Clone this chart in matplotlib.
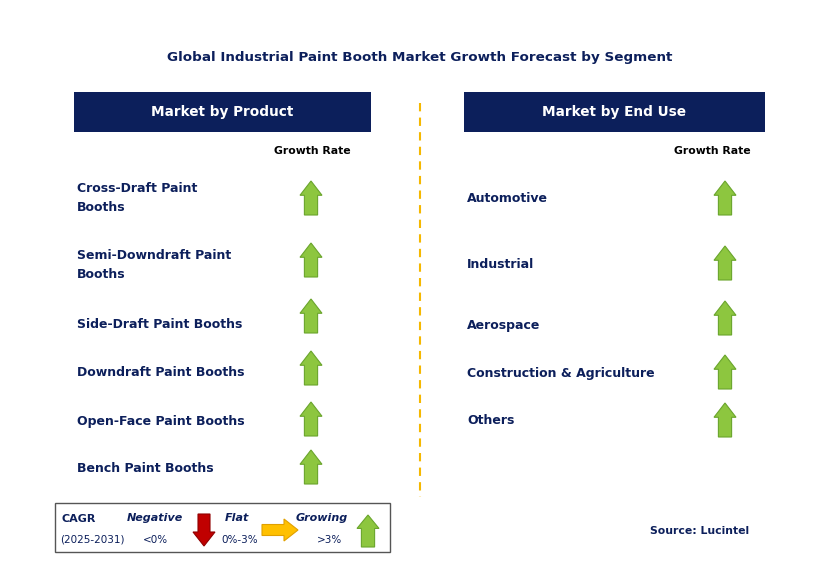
import matplotlib.pyplot as plt
from matplotlib.patches import Rectangle, FancyArrow

# DATA
title = 'Global Industrial Paint Booth Market Growth Forecast by Segment'
product_labels = ['Cross-Draft Paint\nBooths', 'Semi-Downdraft Paint\nBooths', 'Side-Draft Paint Booths',
                  'Downdraft Paint Booths', 'Open-Face Paint Booths', 'Bench Paint Booths']
product_growth = ['growing'] * 6
enduse_labels = ['Automotive', 'Industrial', 'Aerospace', 'Construction & Agriculture', 'Others']
enduse_growth = ['growing'] * 5

NAVY = '#0c1f5b'
GREEN = '#8dc63f'
GREEN_EDGE = '#6aa52c'

fig = plt.figure(figsize=(8.19, 5.8), dpi=100)
ax = fig.add_axes([0, 0, 1, 1])
ax.set_xlim(0, 819); ax.set_ylim(580, 0); ax.axis('off')


def up_arrow(x, y, h=34, w=22, color=GREEN, edge=GREEN_EDGE):
    ax.add_patch(FancyArrow(x, y + h / 2, 0, -h, width=w * 0.6, head_width=w, head_length=h * 0.42,
                            length_includes_head=True, fc=color, ec=edge, lw=0.8))


ax.text(420, 57, title, ha='center', va='center', fontsize=9.7, fontweight='bold', color=NAVY)

for x0, x1, label in [(74, 371, 'Market by Product'), (464, 765, 'Market by End Use')]:
    ax.add_patch(Rectangle((x0, 92), x1 - x0, 40, fc=NAVY, ec='none'))
    ax.text((x0 + x1) / 2, 112, label, ha='center', va='center', fontsize=9.8, fontweight='bold', color='white')

ax.plot([420, 420], [103, 497], ls=(0, (4, 3)), color='#f5b800', lw=1.5)

ax.text(312, 151, 'Growth Rate', ha='center', va='center', fontsize=7.8, fontweight='bold')
ax.text(712, 151, 'Growth Rate', ha='center', va='center', fontsize=7.8, fontweight='bold')

prod_y = [198, 265, 325, 373, 421, 469]
prod_arrow_y = [198, 260, 316, 368, 419, 467]
for lab, g, y, ay in zip(product_labels, product_growth, prod_y, prod_arrow_y):
    ax.text(77, y, lab, ha='left', va='center', fontsize=9, fontweight='bold', color=NAVY, linespacing=1.55)
    up_arrow(311, ay)

end_y = [198, 265, 325, 373, 421]
end_arrow_y = [198, 263, 318, 372, 420]
for lab, g, y, ay in zip(enduse_labels, enduse_growth, end_y, end_arrow_y):
    ax.text(467, y, lab, ha='left', va='center', fontsize=9, fontweight='bold', color=NAVY)
    up_arrow(725, ay)

# legend
ax.add_patch(Rectangle((55, 503), 335, 49, fc='white', ec='#555555', lw=1))
ax.text(62, 519, 'CAGR', fontsize=8, fontweight='bold', color=NAVY, va='center')
ax.text(60, 540, '(2025-2031)', fontsize=7.5, color=NAVY, va='center')
ax.text(155, 518, 'Negative', fontsize=8, fontweight='bold', style='italic', color=NAVY, ha='center', va='center')
ax.text(155, 540, '<0%', fontsize=7.5, color=NAVY, ha='center', va='center')
ax.add_patch(FancyArrow(204, 514, 0, 32, width=12, head_width=22, head_length=14,
                        length_includes_head=True, fc='#c00000', ec='#900000', lw=0.8))
ax.text(237, 518, 'Flat', fontsize=8, fontweight='bold', style='italic', color=NAVY, ha='center', va='center')
ax.text(240, 540, '0%-3%', fontsize=7.5, color=NAVY, ha='center', va='center')
ax.add_patch(FancyArrow(262, 530, 36, 0, width=11, head_width=22, head_length=14,
                        length_includes_head=True, fc='#ffc000', ec='#e0a000', lw=0.8))
ax.text(322, 518, 'Growing', fontsize=8, fontweight='bold', style='italic', color=NAVY, ha='center', va='center')
ax.text(330, 540, '>3%', fontsize=7.5, color=NAVY, ha='center', va='center')
up_arrow(368, 531, h=32, w=22)

ax.text(700, 531, 'Source: Lucintel', fontsize=7.8, fontweight='bold', color=NAVY, ha='center', va='center')

fig.savefig('out.png', dpi=100)
